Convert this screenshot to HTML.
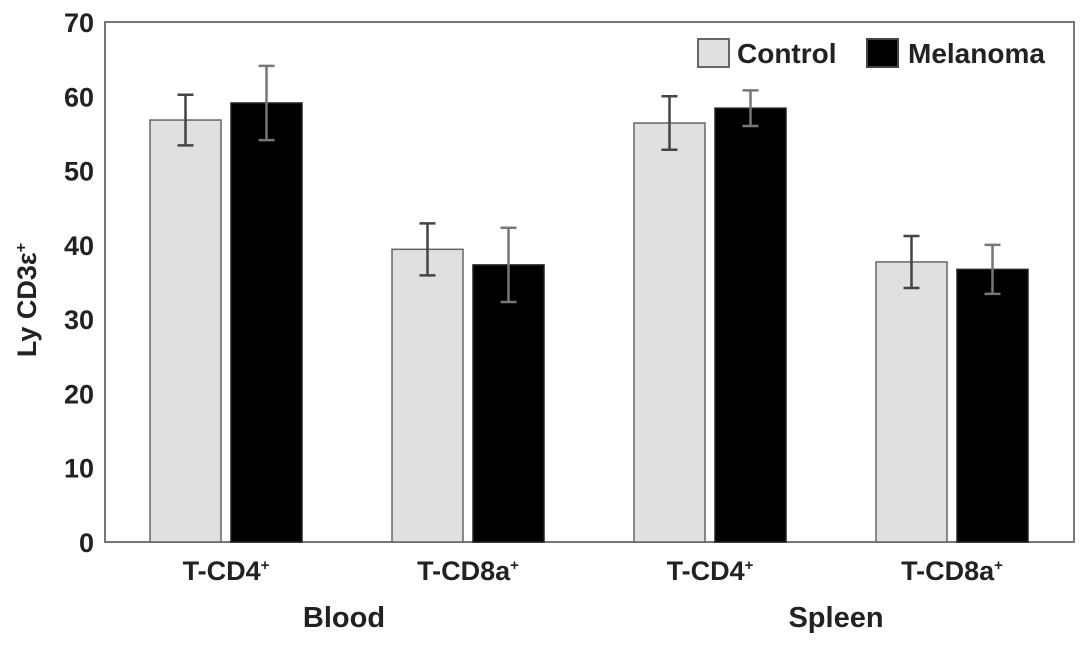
<!DOCTYPE html>
<html><head><meta charset="utf-8"><style>
body{margin:0;background:#fff;}
svg text{font-family:"Liberation Sans",sans-serif;fill:#222;}
</style></head><body>
<svg id="chart" width="1087" height="648">
<rect x="105" y="22" width="969" height="520" fill="none" stroke="#777" stroke-width="2"/>
<g id="yticks"></g>
<g id="bars"></g>
<text x="36" y="300" font-size="27" font-weight="bold" text-anchor="middle" transform="rotate(-90 36 300)">Ly CD3ε<tspan dy="-10" font-size="16">+</tspan></text>
<text x="344" y="627" font-size="29" font-weight="bold" text-anchor="middle">Blood</text>
<text x="836" y="627" font-size="29" font-weight="bold" text-anchor="middle">Spleen</text>
<g>
<rect x="698" y="39" width="31" height="28" fill="#e0e0e0" stroke="#666" stroke-width="2"/>
<text x="737" y="63" font-size="28" font-weight="bold">Control</text>
<rect x="867" y="39" width="31" height="28" fill="#000" stroke="#444" stroke-width="2"/>
<text x="908" y="63" font-size="28" font-weight="bold">Melanoma</text>
</g>
</svg>
<script>
const categories = ["T-CD4", "T-CD8a", "T-CD4", "T-CD8a"];
const controlValues = [56.8, 39.4, 56.4, 37.7];
const controlErrors = [3.4, 3.5, 3.6, 3.5];
const melanomaValues = [59.1, 37.3, 58.4, 36.7];
const melanomaErrors = [5.0, 5.0, 2.4, 3.3];
const yTicks = [0, 10, 20, 30, 40, 50, 60, 70];

const NS = "http://www.w3.org/2000/svg";
const y0 = 542, yTop = 22, yMax = 70;
function yScale(v){ return y0 - (v / yMax) * (y0 - yTop); }
function xCenter(i){ return 226 + i * 242; }
function mk(tag, attrs, parent){ const e = document.createElementNS(NS, tag); for (const k in attrs) e.setAttribute(k, attrs[k]); parent.appendChild(e); return e; }

const yt = document.getElementById("yticks");
yTicks.forEach(t => {
  const tx = mk("text", {x: 94, y: yScale(t) + 10, "font-size": 27, "font-weight": "bold", "text-anchor": "end"}, yt);
  tx.textContent = t;
  
  
});

const g = document.getElementById("bars");
function drawBar(x, v, err, fill, stroke, errColor, name){
  const r = mk("rect", {x: x, y: yScale(v), width: 71, height: y0 - yScale(v), fill: fill, stroke: stroke, "stroke-width": 1.5}, g);
  
  
  const cx = x + 35.5;
  const e = mk("path", {d: `M${cx},${yScale(v+err)}V${yScale(v-err)}M${cx-8},${yScale(v+err)}H${cx+8}M${cx-8},${yScale(v-err)}H${cx+8}`, stroke: errColor, "stroke-width": 2.5, fill: "none"}, g);
  
  
}
categories.forEach((c, i) => {
  const xc = xCenter(i);
  drawBar(xc - 76, controlValues[i], controlErrors[i], "#e0e0e0", "#666", "#444", "bar-control-" + i);
  drawBar(xc + 5, melanomaValues[i], melanomaErrors[i], "#000", "#222", "#777", "bar-melanoma-" + i);
  const t = mk("text", {x: xc, y: 580, "font-size": 27, "font-weight": "bold", "text-anchor": "middle"}, g);
  t.textContent = c;
  const s = mk("tspan", {dy: -10, "font-size": 15}, t);
  s.textContent = "+";
  
  
});
</script>
</body></html>
